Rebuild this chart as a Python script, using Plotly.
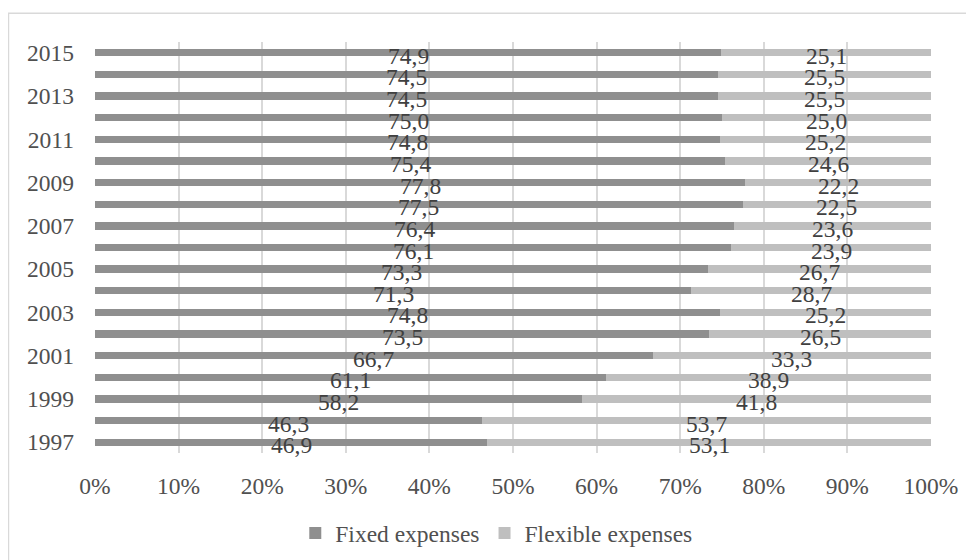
import plotly.graph_objects as go

years = list(range(1997, 2016))
fixed = [46.9, 46.3, 58.2, 61.1, 66.7, 73.5, 74.8, 71.3, 73.3, 76.1,
         76.4, 77.5, 77.8, 75.4, 74.8, 75.0, 74.5, 74.5, 74.9]
flexible = [53.1, 53.7, 41.8, 38.9, 33.3, 26.5, 25.2, 28.7, 26.7, 23.9,
            23.6, 22.5, 22.2, 24.6, 25.2, 25.0, 25.5, 25.5, 25.1]
tick_years = [1997, 1999, 2001, 2003, 2005, 2007, 2009, 2011, 2013, 2015]
x_ticks = list(range(0, 101, 10))
x_tick_labels = [f"{v}%" for v in x_ticks]

FONT = "Liberation Serif, Times New Roman, serif"
TXT = "#404040"
TICK = "#505050"
C_FIXED = "#8f8f8f"
C_FLEX = "#bfbfbf"
FS = 23.5

fig = go.Figure()
fig.add_trace(go.Bar(y=years, x=fixed, orientation="h", name="Fixed expenses",
                     marker=dict(color=C_FIXED, line=dict(width=0)), width=0.34))
fig.add_trace(go.Bar(y=years, x=flexible, orientation="h", name="Flexible expenses",
                     marker=dict(color=C_FLEX, line=dict(width=0)), width=0.34))

def fmt(v):
    return f"{v:.1f}".replace(".", ",")

annotations = []
for yr, fx, fl in zip(years, fixed, flexible):
    annotations.append(dict(x=fx / 2, y=yr, text=fmt(fx), showarrow=False,
                            xref="x", yref="y", yshift=-3,
                            font=dict(family=FONT, size=FS, color=TXT)))
    annotations.append(dict(x=fx + fl / 2, y=yr, text=fmt(fl), showarrow=False,
                            xref="x", yref="y", yshift=-3,
                            font=dict(family=FONT, size=FS, color=TXT)))

fig.update_layout(
    width=974, height=560,
    margin=dict(l=87, r=51, t=34, b=115, autoexpand=False),
    paper_bgcolor="white", plot_bgcolor="white",
    barmode="stack",
    font=dict(family=FONT, size=FS, color=TXT),
    showlegend=True,
    legend=dict(orientation="h", x=0.48, xanchor="center", y=-0.195, yanchor="middle",
                font=dict(family=FONT, size=FS, color=TICK), traceorder="normal",
                itemwidth=30),
    annotations=annotations,
    shapes=[dict(type="rect", xref="paper", yref="paper",
                 x0=-0.1035, x1=1.2, y0=-0.4, y1=1.07,
                 fillcolor="rgba(0,0,0,0)",
                 line=dict(color="#d9d9d9", width=1.5), layer="below")],
    xaxis=dict(range=[0, 100], tickmode="array", tickvals=x_ticks, ticktext=x_tick_labels,
               showgrid=True, gridcolor="#d9d9d9", gridwidth=1.5,
               zeroline=False, showline=False, ticks="", ticklabelstandoff=16,
               tickfont=dict(family=FONT, size=FS, color=TICK)),
    yaxis=dict(range=[1996.5, 2015.5], tickmode="array", tickvals=tick_years,
               showgrid=False, zeroline=False, showline=False, ticks="",
               ticklabelstandoff=20,
               tickfont=dict(family=FONT, size=FS, color=TICK)),
)

fig.write_html("out.html")
